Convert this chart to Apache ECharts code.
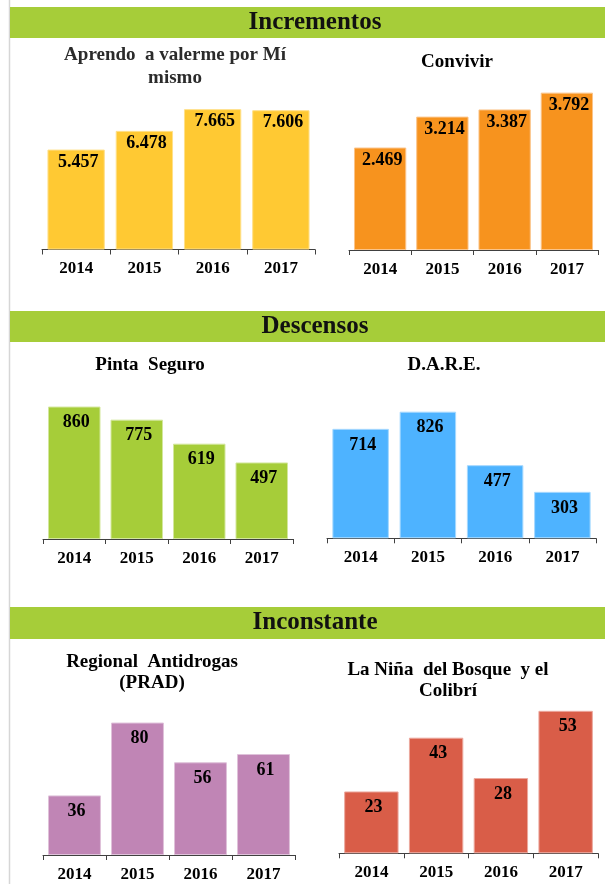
<!DOCTYPE html>
<html>
<head>
<meta charset="utf-8">
<script src="https://cdn.jsdelivr.net/npm/echarts@6/dist/echarts.min.js"></script>
<style>
  html, body { margin: 0; padding: 0; background: #fff; }
  #main { width: 605px; height: 884px; }
</style>
</head>
<body>
<div id="main"></div>
<script>
// datos
const years = ["2014", "2015", "2016", "2017"];
const aprendo = [5457, 6478, 7665, 7606];
const convivir = [2469, 3214, 3387, 3792];
const pintaSeguro = [860, 775, 619, 497];
const dare = [714, 826, 477, 303];
const prad = [36, 80, 56, 61];
const ninaBosque = [23, 43, 28, 53];

const FONT = '"Liberation Serif", "Times New Roman", serif';

// miles con punto
function fmt(v) {
  return String(v).replace(/\B(?=(\d{3})+(?!\d))/g, ".");
}

// cada panel: datos, color, grid, max del eje
const panels = [
  { data: aprendo, color: "#ffc933", border: "#ffe08a", grid: { left: 42, top: 103, width: 273, height: 146.5 }, max: 8000, dist: 3.5 },
  { data: convivir, color: "#f7931e", border: "#fbc489", grid: { left: 349, top: 84, width: 249, height: 166 }, max: 4000, dist: 3.5 },
  { data: pintaSeguro, color: "#a6cd39", border: "#d3e79c", grid: { left: 43, top: 385, width: 250, height: 154 }, max: 1000, dist: 7 },
  { data: dare, color: "#4eb3ff", border: "#a6d9ff", grid: { left: 327, top: 385, width: 269, height: 153.3 }, max: 1000, dist: 7 },
  { data: prad, color: "#c085b5", border: "#dfc2da", grid: { left: 43, top: 706, width: 252, height: 149 }, max: 90, dist: 7 },
  { data: ninaBosque, color: "#d95d48", border: "#eca99e", grid: { left: 339, top: 692, width: 259, height: 161.3 }, max: 60, dist: 7 },
];

const titles = [
  { text: "Aprendo  a valerme por Mí\nmismo", left: 175, top: 43.5, lh: 23, color: "#2b2b2b" },
  { text: "Convivir", left: 457, top: 50.5, lh: 23, color: "#000" },
  { text: "Pinta  Seguro", left: 150, top: 353.5, lh: 23, color: "#000" },
  { text: "D.A.R.E.", left: 444, top: 353.5, lh: 23, color: "#000" },
  { text: "Regional  Antidrogas\n(PRAD)", left: 152, top: 652, lh: 21, color: "#000" },
  { text: "La Niña  del Bosque  y el\nColibrí", left: 448, top: 660, lh: 21, color: "#000" },
];

const headers = [
  { text: "Incrementos", y: 7, h: 31 },
  { text: "Descensos", y: 311, h: 31 },
  { text: "Inconstante", y: 607, h: 32 },
];

const chart = echarts.init(document.getElementById("main"));

const graphic = [
  { type: "line", shape: { x1: 9.5, y1: 0, x2: 9.5, y2: 884 }, style: { stroke: "#d6d6d6", lineWidth: 1.5 } },
];
headers.forEach((h) => {
  graphic.push({ type: "rect", shape: { x: 10, y: h.y, width: 595, height: h.h }, style: { fill: "#a6cd39" } });
  graphic.push({
    type: "text",
    x: 315,
    y: h.y + h.h / 2,
    style: {
      text: h.text,
      fill: "#111",
      font: "bold 25px " + FONT,
      textAlign: "center",
      textVerticalAlign: "middle",
    },
  });
});

chart.setOption({
  animation: false,
  title: titles.map((t) => ({
    text: t.text,
    left: t.left,
    top: t.top,
    textAlign: "center",
    padding: 0,
    textStyle: {
      fontFamily: FONT,
      fontSize: 19,
      fontWeight: "bold",
      color: t.color,
      lineHeight: t.lh,
    },
  })),
  graphic: graphic,
  grid: panels.map((p) => p.grid),
  xAxis: panels.map((p, i) => ({
    type: "category",
    gridIndex: i,
    data: years,
    axisLine: { show: true, lineStyle: { color: "#404040", width: 1 } },
    axisTick: { show: true, length: 5, lineStyle: { color: "#404040", width: 1 } },
    axisLabel: {
      margin: 11,
      fontFamily: FONT,
      fontSize: 17,
      fontWeight: "bold",
      color: "#000",
    },
  })),
  yAxis: panels.map((p, i) => ({
    type: "value",
    gridIndex: i,
    min: 0,
    max: p.max,
    show: false,
    splitLine: { show: false },
  })),
  series: panels.map((p, i) => ({
    type: "bar",
    xAxisIndex: i,
    yAxisIndex: i,
    data: p.data,
    barCategoryGap: "16%",
    itemStyle: { color: p.color, borderColor: p.border, borderWidth: 1 },
    label: {
      show: true,
      position: "insideTop",
      distance: p.dist,
      offset: [2, 0],
      formatter: (params) => fmt(params.value),
      fontFamily: FONT,
      fontSize: 18,
      fontWeight: "bold",
      color: "#000",
    },
  })),
});
</script>
</body>
</html>
